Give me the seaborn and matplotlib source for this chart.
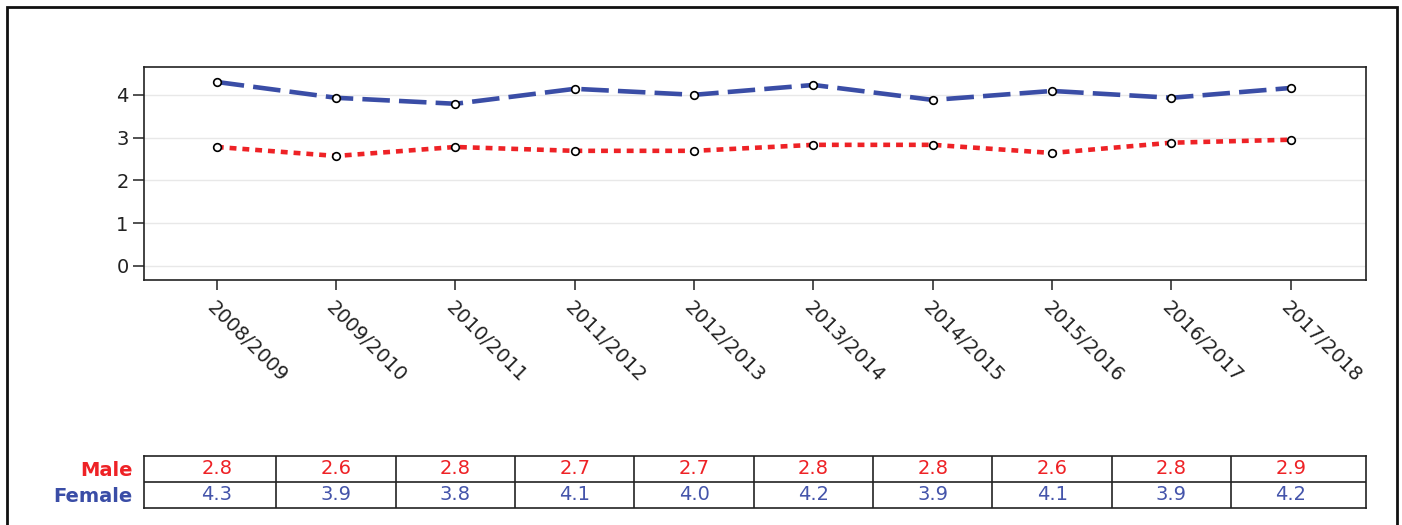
import numpy as np
import pandas as pd
import seaborn as sns
import matplotlib.pyplot as plt
from matplotlib.patches import Rectangle

# data (plotted values, table shows them rounded)
seasons = ["2008/2009", "2009/2010", "2010/2011", "2011/2012", "2012/2013",
           "2013/2014", "2014/2015", "2015/2016", "2016/2017", "2017/2018"]
male = [2.78, 2.57, 2.78, 2.69, 2.69, 2.83, 2.83, 2.64, 2.88, 2.95]
female = [4.30, 3.93, 3.79, 4.14, 4.00, 4.23, 3.88, 4.09, 3.93, 4.16]
male_table = ["2.8", "2.6", "2.8", "2.7", "2.7", "2.8", "2.8", "2.6", "2.8", "2.9"]
female_table = ["4.3", "3.9", "3.8", "4.1", "4.0", "4.2", "3.9", "4.1", "3.9", "4.2"]

RED = "#EE2226"
BLUE = "#3A4DA6"

sns.set_theme(style="white")
plt.rcParams['font.family'] = ['DejaVu Sans']

df = pd.DataFrame({
    "season": seasons * 2,
    "value": male + female,
    "sex": ["Male"] * len(seasons) + ["Female"] * len(seasons),
})

W, H = 1402, 525
fig = plt.figure(figsize=(W / 100, H / 100), dpi=100)

# main axes
ax = fig.add_axes([144 / W, 1 - 280 / H, (1366 - 144) / W, (280 - 67) / H])
sns.lineplot(data=df, x="season", y="value", hue="sex", style="sex",
             palette={"Male": RED, "Female": BLUE},
             dashes={"Male": (1.5, 1.3), "Female": (6.0, 2.0)},
             markers={"Male": "o", "Female": "o"},
             linewidth=3.3, markersize=5.5, markerfacecolor="white",
             markeredgecolor="black", markeredgewidth=1.2,
             legend=False, sort=False, ax=ax)
ax.set_xlim(-0.61, 9.63)
ax.set_ylim(-0.33, 4.65)
ax.set_yticks([0, 1, 2, 3, 4])
ax.set_xlabel("")
ax.set_ylabel("")
ax.grid(axis="y", color="#e8e8e8", linewidth=1)
ax.set_axisbelow(True)
for s in ax.spines.values():
    s.set_color("#222222")
    s.set_linewidth(1.2)
ax.tick_params(axis="both", direction="out", width=1.1, color="#222222",
               labelsize=14, labelcolor="#222222", bottom=True, left=True)
ax.tick_params(axis="y", length=8, pad=3)
ax.tick_params(axis="x", length=7, pad=6)
for lab in ax.get_xticklabels():
    lab.set_rotation(-45)
    lab.set_ha("left")
    lab.set_va("top")
    lab.set_rotation_mode("anchor")

# table under the chart
tab = fig.add_axes([144 / W, 1 - 508 / H, (1366 - 144) / W, (508 - 456) / H])
tab.set_xlim(ax.get_xlim())
tab.set_ylim(0, 2)
for i in range(len(seasons) - 1):
    tab.axvline(i + 0.5, color="#222222", linewidth=1.2)
tab.axhline(1, color="#222222", linewidth=1.2)
for i in range(len(seasons)):
    tab.text(i, 1.5, male_table[i], color=RED, fontsize=14, ha="center", va="center")
    tab.text(i, 0.5, female_table[i], color="#4454AA", fontsize=14, ha="center", va="center")
tab.set_xticks([])
tab.set_yticks([1.5, 0.5])
tab.set_yticklabels(["Male", "Female"], fontsize=14, fontweight="bold")
tab.get_yticklabels()[0].set_color(RED)
tab.get_yticklabels()[1].set_color(BLUE)
tab.tick_params(axis="y", length=0, pad=8)
for s in tab.spines.values():
    s.set_color("#222222")
    s.set_linewidth(1.2)

# outer frame
fig.patches.append(Rectangle((7 / W, -0.05), (1397 - 7) / W, 1.05 - 7 / H,
                             transform=fig.transFigure, fill=False,
                             edgecolor="#111111", linewidth=2))

fig.savefig("out.png", dpi=100)
